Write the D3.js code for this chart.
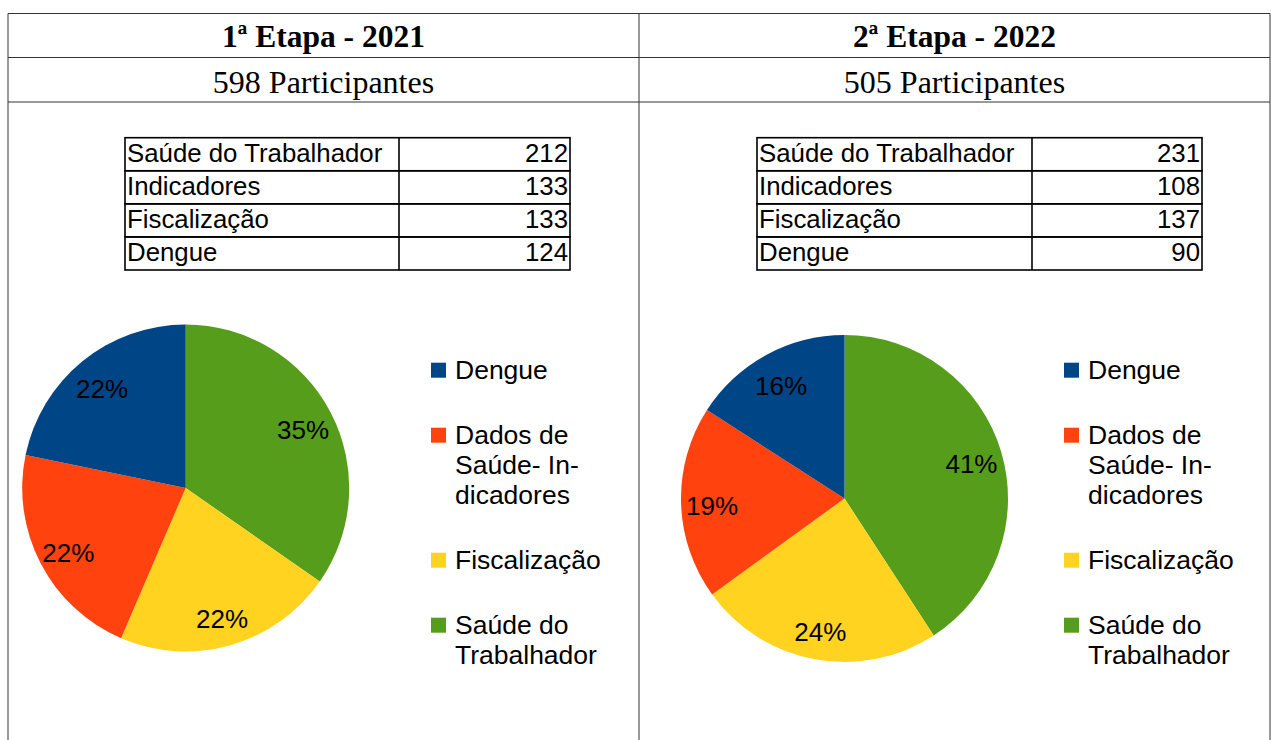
<!DOCTYPE html>
<html>
<head>
<meta charset="utf-8">
<script src="https://cdn.jsdelivr.net/npm/d3@7"></script>
<style>
  body { margin: 0; background: #fff; }
</style>
</head>
<body>
<div id="chart"></div>
<script>
// Data
const stageTitles = ['1ª Etapa - 2021', '2ª Etapa - 2022'];
const participantLabels = ['598 Participantes', '505 Participantes'];

const tableCategories = ['Saúde do Trabalhador', 'Indicadores', 'Fiscalização', 'Dengue'];
const tableValues2021 = [212, 133, 133, 124];
const tableValues2022 = [231, 108, 137, 90];

// pie slices, clockwise from 12 o'clock
const sliceKeys = ['Saúde do Trabalhador', 'Fiscalização', 'Indicadores', 'Dengue'];
const pieValues2021 = [212, 133, 133, 133];
const pieValues2022 = [231, 137, 108, 90];
const sliceColors = ['#579d1c', '#ffd320', '#ff420e', '#004586'];

const legendKeys = ['Dengue', 'Indicadores', 'Fiscalização', 'Saúde do Trabalhador'];
const legendLabels = [['Dengue'], ['Dados de', 'Saúde- In-', 'dicadores'], ['Fiscalização'], ['Saúde do', 'Trabalhador']];

const width = 1271, height = 740;
const colX = [8, 639, 1270];
const rowY = [13.5, 57.5, 102];

const svg = d3.select('#chart').append('svg')
    .attr('width', width)
    .attr('height', height);

const colorScale = d3.scaleOrdinal().domain(sliceKeys).range(sliceColors);

// Outer grid
const grid = svg.append('g').attr('stroke', '#333').attr('stroke-width', 1);
rowY.forEach(y => grid.append('line').attr('x1', colX[0]).attr('x2', colX[2]).attr('y1', y).attr('y2', y));
colX.forEach(x => grid.append('line').attr('x1', x).attr('x2', x).attr('y1', rowY[0]).attr('y2', height));

class StagePanel {
    constructor(_config, _tableValues, _pieValues) {
        this.config = _config;
        this.tableValues = _tableValues;
        this.pieValues = _pieValues;
        this.initVis();
    }

    initVis() {
        let vis = this;
        const c = vis.config;
        vis.g = svg.append('g');

        // header texts
        vis.g.append('text')
            .attr('x', (c.x0 + c.x1) / 2).attr('y', 47)
            .attr('text-anchor', 'middle')
            .style('font-family', '"Liberation Serif", serif')
            .style('font-weight', 'bold')
            .style('font-size', '31.5px')
            .text(c.title);

        vis.g.append('text')
            .attr('x', (c.x0 + c.x1) / 2).attr('y', 92.5)
            .attr('text-anchor', 'middle')
            .style('font-family', '"Liberation Serif", serif')
            .style('font-size', '32px')
            .text(c.subtitle);

        vis.renderTable();
        vis.renderPie();
        vis.renderLegend();
    }

    renderTable() {
        let vis = this;
        const c = vis.config;
        const rows = tableCategories.map((k, i) => ({ key: k, value: vis.tableValues[i] }));

        const yScale = d3.scaleBand()
            .domain(tableCategories)
            .range([137.7, 270]);

        const t = vis.g.append('g')
            .style('font-family', '"Liberation Sans", Arial, sans-serif')
            .style('font-size', '25.8px');

        t.selectAll('.cell-line')
            .data(rows)
            .join('rect')
            .attr('x', c.tableX)
            .attr('y', d => yScale(d.key))
            .attr('width', c.tableW)
            .attr('height', yScale.bandwidth())
            .attr('fill', 'none')
            .attr('stroke', '#000')
            .attr('stroke-width', 1.6);

        t.append('line')
            .attr('x1', c.tableX + c.tableSplit).attr('x2', c.tableX + c.tableSplit)
            .attr('y1', yScale.range()[0]).attr('y2', yScale.range()[1])
            .attr('stroke', '#000').attr('stroke-width', 1.6);

        t.selectAll('.cat')
            .data(rows)
            .join('text')
            .attr('x', c.tableX + 2)
            .attr('y', d => yScale(d.key) + 24.5)
            .text(d => d.key);

        t.selectAll('.val')
            .data(rows)
            .join('text')
            .attr('x', c.tableX + c.tableW - 2)
            .attr('y', d => yScale(d.key) + 24.5)
            .attr('text-anchor', 'end')
            .text(d => d.value);
    }

    renderPie() {
        let vis = this;
        const c = vis.config;
        const slices = sliceKeys.map((k, i) => ({ key: k, value: vis.pieValues[i] }));
        const total = d3.sum(slices, d => d.value);

        const pie = d3.pie().sort(null).value(d => d.value);
        const arc = d3.arc().innerRadius(0).outerRadius(c.radius);
        const labelArc = d3.arc().innerRadius(c.radius * 0.81).outerRadius(c.radius * 0.81);

        const p = vis.g.append('g')
            .attr('transform', `translate(${c.cx},${c.cy})`);

        p.selectAll('path')
            .data(pie(slices))
            .join('path')
            .attr('d', arc)
            .attr('fill', d => colorScale(d.data.key));

        p.selectAll('text')
            .data(pie(slices))
            .join('text')
            .attr('transform', d => {
                const [x, y] = labelArc.centroid(d);
                return `translate(${x},${y + 3})`;
            })
            .attr('text-anchor', 'middle')
            .attr('dy', '0.36em')
            .style('font-family', '"Liberation Sans", Arial, sans-serif')
            .style('font-size', '26px')
            .text(d => d3.format('.0%')(d.data.value / total));
    }

    renderLegend() {
        let vis = this;
        const c = vis.config;
        const lineH = 30, gap = 35;
        let y = 362.7;
        const items = legendKeys.map((k, i) => {
            const item = { key: k, lines: legendLabels[i], y: y };
            y += legendLabels[i].length * lineH + gap;
            return item;
        });

        const lg = vis.g.append('g')
            .style('font-family', '"Liberation Sans", Arial, sans-serif')
            .style('font-size', '26.5px');

        lg.selectAll('rect')
            .data(items)
            .join('rect')
            .attr('x', c.legendX)
            .attr('y', d => d.y)
            .attr('width', 15)
            .attr('height', 15)
            .attr('fill', d => colorScale(d.key));

        lg.selectAll('text')
            .data(items)
            .join('text')
            .attr('x', c.legendX + 24)
            .attr('y', d => d.y + 16.3)
            .selectAll('tspan')
            .data(d => d.lines)
            .join('tspan')
            .attr('x', c.legendX + 24)
            .attr('dy', (d, i) => i === 0 ? 0 : lineH)
            .text(d => d);
    }
}

new StagePanel({
    x0: colX[0], x1: colX[1],
    title: stageTitles[0], subtitle: participantLabels[0],
    tableX: 125, tableW: 445, tableSplit: 274,
    cx: 185.7, cy: 488, radius: 163.5,
    legendX: 431
}, tableValues2021, pieValues2021);

new StagePanel({
    x0: colX[1], x1: colX[2],
    title: stageTitles[1], subtitle: participantLabels[1],
    tableX: 757, tableW: 445, tableSplit: 275,
    cx: 844.5, cy: 498.5, radius: 163.5,
    legendX: 1064
}, tableValues2022, pieValues2022);
</script>
</body>
</html>
